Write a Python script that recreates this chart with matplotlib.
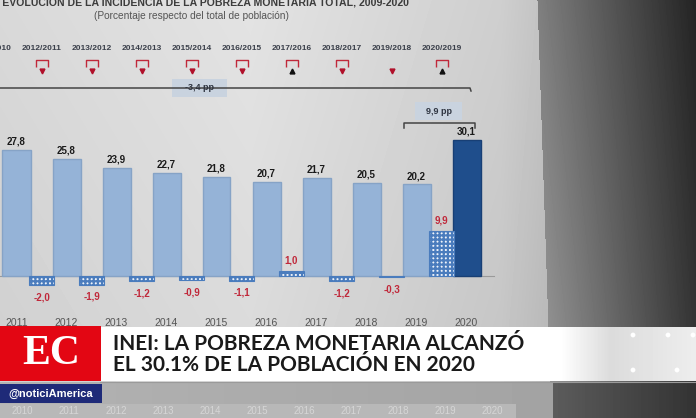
"""
Recreate the INEI poverty chart (TV screenshot) with matplotlib.
Writes out.png (696x418).
"""

import numpy as np
import matplotlib
matplotlib.use("Agg")
import matplotlib.pyplot as plt
from matplotlib.patches import Rectangle
from matplotlib.path import Path

# --- data -------------------------------------------------------------
years = ["2011", "2012", "2013", "2014", "2015", "2016", "2017", "2018", "2019", "2020"]
pobreza = [27.8, 25.8, 23.9, 22.7, 21.8, 20.7, 21.7, 20.5, 20.2, 30.1]
pobreza_txt = ["27,8", "25,8", "23,9", "22,7", "21,8", "20,7", "21,7", "20,5", "20,2", "30,1"]

periodos = ["2011/2010", "2012/2011", "2013/2012", "2014/2013", "2015/2014",
            "2016/2015", "2017/2016", "2018/2017", "2019/2018", "2020/2019"]
sube = [False, False, False, False, False, False, True, False, False, True]
significativa = [True, True, True, True, True, True, True, True, False, True]

# change bars exist from 2012/2011 on
variacion = [-2.0, -1.9, -1.2, -0.9, -1.1, 1.0, -1.2, -0.3, 9.9]
variacion_txt = ["-2,0", "-1,9", "-1,2", "-0,9", "-1,1", "1,0", "-1,2", "-0,3", "9,9"]

titulo = "GRÁFICO N° 3: EVOLUCIÓN DE LA INCIDENCIA DE LA POBREZA MONETARIA TOTAL, 2009-2020"
subtitulo = "(Porcentaje respecto del total de población)"
faint_years = ["2010", "2011", "2012", "2013", "2014", "2015", "2016", "2017", "2018", "2019", "2020"]

W, H = 696, 418
plt.rcParams["font.family"] = ["Liberation Sans", "DejaVu Sans"]
plt.rcParams["hatch.linewidth"] = 1.6

fig = plt.figure(figsize=(W / 100, H / 100), dpi=100)

# --- photographed background (screen + dark bezel) --------------------
ax_bg = fig.add_axes([0, 0, 1, 1], zorder=0)
yy, xx = np.mgrid[0:H, 0:W].astype(float)
edge = 537 + 14 * yy / H
light = np.interp(xx, [0, 250, 500, 545], [0.85, 0.89, 0.81, 0.76]) - 0.04 * (yy / H)
dark = np.interp((xx - edge) / (W - edge), [0, 1], [0.58, 0.22]) - 0.08 * (1 - yy / H)
bg = np.where(xx < edge, light, dark)
below = yy > 381
bg = np.where(below & (xx < 553), np.interp(xx, [0, 553], [0.70, 0.64]), bg)
bg = np.where(below & (xx >= 553), np.interp(xx, [553, W], [0.36, 0.20]), bg)
bg = np.where(below & (yy > 403) & (xx < 516), 0.72, bg)
ax_bg.imshow(bg, cmap="gray", vmin=0, vmax=1, extent=(0, W, H, 0), aspect="auto")
ax_bg.set_xlim(0, W)
ax_bg.set_ylim(H, 0)
ax_bg.axis("off")

# --- chart axes: zero line at y=276 px, 4.53 px per point, 50 px per year
ax = fig.add_axes([0, 0, 1, 1], zorder=1)
ax.patch.set_alpha(0)
ax.set_xlim(-16.5 / 50, (W - 16.5) / 50)
ax.set_ylim(-(H - 276) / 4.53, 276 / 4.53)
ax.axis("off")

x = np.arange(len(years))
colors = ["#95b3d7"] * (len(years) - 1) + ["#1f4e8c"]
edges = ["#86a3c6"] * (len(years) - 1) + ["#183f75"]
ax.bar(x, pobreza, width=0.56, color=colors, edgecolor=edges, lw=1.0, zorder=2)
for xi, v, t in zip(x, pobreza, pobreza_txt):
    ax.annotate(t, (xi, v), xytext=(0, 2.5), textcoords="offset points",
                ha="center", va="bottom", fontsize=7, fontweight="bold", color="#1a1a1a")

xc = np.arange(len(variacion)) + 0.5
ax.bar(xc, variacion, width=0.5, facecolor="#eef3fa", edgecolor="#4a7cbd",
       hatch="++++", lw=0.8, zorder=2)
for xi, v, t in zip(xc, variacion, variacion_txt):
    if v < 0:
        ax.annotate(t, (xi, v), xytext=(0, -5), textcoords="offset points",
                    ha="center", va="top", fontsize=7, fontweight="bold", color="#c0283a")
    else:
        ax.annotate(t, (xi, v), xytext=(0, 4), textcoords="offset points",
                    ha="center", va="bottom", fontsize=7, fontweight="bold", color="#c0283a")

ax.plot([x[0] - 0.4, x[-1] + 0.55], [0, 0], color="#9a9a9a", lw=0.8, zorder=1)

# year labels under the axis
for xi, y in zip(x, years):
    ax.text(xi, -(323 - 276) / 4.53, y, ha="center", va="center",
            fontsize=7.5, color="#555555")

# period labels + significance markers
xp = np.arange(len(periodos)) - 0.5
for xi, p in zip(xp, periodos):
    ax.text(xi, (276 - 48) / 4.53, p, ha="center", va="center",
            fontsize=6, fontweight="bold", color="#3a3f4a", zorder=3)
bracket = Path([(-1, -0.7), (-1, 0.6), (1, 0.6), (1, -0.7)],
               [Path.MOVETO, Path.LINETO, Path.LINETO, Path.LINETO])
sig_x = [xi for xi, s in zip(xp, significativa) if s]
ax.plot(sig_x, [(276 - 63) / 4.53] * len(sig_x), ls="none", marker=bracket,
        ms=8, mfc="none", mec="#c0283a", mew=1.0, zorder=3)
dn = [xi for xi, s in zip(xp, sube) if not s]
up = [xi for xi, s in zip(xp, sube) if s]
ax.plot(dn, [(276 - 71) / 4.53] * len(dn), ls="none", marker="v", ms=3.5,
        color="#b0102a", zorder=3)
ax.plot(up, [(276 - 71) / 4.53] * len(up), ls="none", marker="^", ms=3.5,
        color="#111111", zorder=3)

# --- decorations in pixel coordinates ---------------------------------
ov = fig.add_axes([0, 0, 1, 1], zorder=2)
ov.patch.set_alpha(0)
ov.set_xlim(0, W)
ov.set_ylim(H, 0)
ov.axis("off")

ov.text(409, 1.5, titulo, ha="right", va="center", fontsize=7.6,
        fontweight="bold", color="#3c3c3c")
ov.text(191, 16, subtitulo, ha="center", va="center", fontsize=7.3, color="#555555")

# -3,4 pp span
ov.plot([0, 470, 471], [88, 88, 91], color="#444444", lw=1.1)
ov.add_patch(Rectangle((172, 79), 55, 18, fc="#c9d3df", ec="none"))
ov.text(199.5, 88, "-3,4 pp", ha="center", va="center", fontsize=6.5,
        fontweight="bold", color="#2e3440")

# 9,9 pp bracket
ov.add_patch(Rectangle((415, 102), 47, 18, fc="#c9d3df", ec="none"))
ov.text(438.5, 111, "9,9 pp", ha="center", va="center", fontsize=6.5,
        fontweight="bold", color="#2e3440")
ov.plot([404, 404, 475, 475], [128, 123, 123, 128], color="#444444", lw=1.1)

# --- TV banner --------------------------------------------------------
tv = fig.add_axes([0, 0, 1, 1], zorder=3)
tv.patch.set_alpha(0)
tv.set_xlim(0, W)
tv.set_ylim(H, 0)
tv.axis("off")

grad = np.interp(np.arange(100, W), [100, 560, 610, 696], [1.0, 1.0, 0.86, 0.93])[None, :]
tv.imshow(grad, cmap="gray", vmin=0, vmax=1, extent=(100, W, 381, 327), aspect="auto")
tv.plot([100, W], [381.5, 381.5], color="#9a9a9a", lw=0.8)
tv.scatter([633, 668, 693, 633, 677], [335, 335, 335, 370, 370], s=12,
           color="white", edgecolor="none")
tv.add_patch(Rectangle((0, 326), 101, 55, fc="#e30613", ec="none"))
tv.text(51, 354, "EC", ha="center", va="center", fontsize=30, fontweight="bold",
        color="white", family="Liberation Serif")
tv.add_patch(Rectangle((0, 384), 102, 19, fc="#1e2a78", ec="none"))
tv.text(51, 393.5, "@noticiAmerica", ha="center", va="center", fontsize=8,
        fontweight="bold", color="white")

tv.text(113, 344, "INEI: LA POBREZA MONETARIA ALCANZÓ", ha="left", va="center",
        fontsize=15, fontweight="bold", color="#1a1a1a", family="Lato")
tv.text(113, 365, "EL 30.1% DE LA POBLACIÓN EN 2020", ha="left", va="center",
        fontsize=15, fontweight="bold", color="#1a1a1a", family="Lato")

for i, y in enumerate(faint_years):
    tv.text(22 + 47 * i, 411, y, ha="center", va="center", fontsize=7,
            color="#d6d6d6")

fig.savefig("out.png", dpi=100)
